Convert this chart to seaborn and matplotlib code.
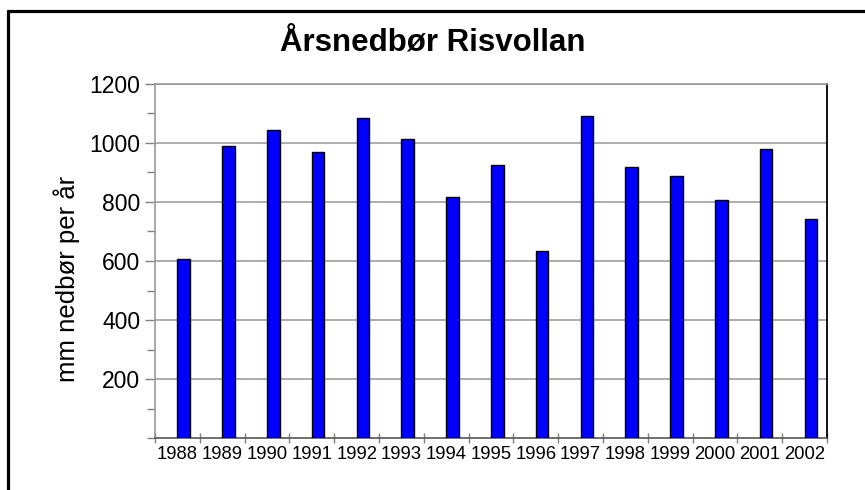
import matplotlib
matplotlib.use("Agg")
import matplotlib.pyplot as plt
import seaborn as sns
import pandas as pd
from matplotlib.ticker import FixedLocator
from matplotlib.lines import Line2D

years = ["1988", "1989", "1990", "1991", "1992", "1993", "1994", "1995",
         "1996", "1997", "1998", "1999", "2000", "2001", "2002"]
precip = [608, 989, 1043, 968, 1084, 1012, 818, 926,
          635, 1090, 918, 888, 806, 978, 743]
title = "Årsnedbør Risvollan"
ylabel = "mm nedbør per år"

df = pd.DataFrame({"year": years, "mm": precip})

sns.set_theme(style="white")
plt.rcParams["font.family"] = ["Liberation Sans", "DejaVu Sans"]
plt.rcParams["text.color"] = "black"
plt.rcParams["axes.labelcolor"] = "black"
plt.rcParams["xtick.labelcolor"] = "black"
plt.rcParams["ytick.labelcolor"] = "black"

fig = plt.figure(figsize=(8.65, 4.9), dpi=100)
ax = fig.add_axes([155/865, 1 - 438/490, (827-155)/865, (438-84)/490])

sns.barplot(data=df, x="year", y="mm", color="#0000FF", saturation=1,
            edgecolor="black", linewidth=1, width=0.28, ax=ax, zorder=3)
for p in ax.patches:
    p.set_x(p.get_x() + p.get_width() / 2)

ax.set_xlim(-0.5, len(years) - 0.5)
ax.set_ylim(0, 1200)

# y axis
ax.set_yticks([200, 400, 600, 800, 1000, 1200])
ax.yaxis.set_minor_locator(FixedLocator([0, 100, 300, 500, 700, 900, 1100]))
ax.tick_params(axis="y", which="major", length=7, width=1, color="#808080",
               labelsize=16.5, pad=3.5, left=True, direction="out",
               labelcolor="black")
ax.tick_params(axis="y", which="minor", length=6, width=1, color="#808080",
               left=True, direction="out")
ax.grid(axis="y", which="major", color="#a0a0a0", linewidth=1.2, zorder=0)

# x axis
ax.xaxis.set_minor_locator(FixedLocator([i - 0.5 for i in range(len(years) + 1)]))
ax.tick_params(axis="x", which="major", length=0, labelsize=13.3, pad=6,
               labelcolor="black")
ax.tick_params(axis="x", which="minor", length=7, width=1, color="#808080",
               bottom=True, direction="inout")

ax.set_xlabel("")
ax.set_ylabel(ylabel, fontsize=18.5, color="black")
ax.yaxis.set_label_coords(-0.111, 0.45)

for s in ["left", "top"]:
    ax.spines[s].set_color("#9a9a9a")
    ax.spines[s].set_linewidth(1.2)
ax.spines["bottom"].set_color("#555555")
ax.spines["bottom"].set_linewidth(1.2)
ax.spines["right"].set_color("black")
ax.spines["right"].set_linewidth(1.3)

fig.text(0.5, 1 - 43/490, title, ha="center", va="center",
         fontsize=22.5, fontweight="bold", color="black")

# outer frame (left and top edges visible)
fig.add_artist(Line2D([8/865, 8/865], [0, 1 - 11/490], color="black",
                      linewidth=2.3, transform=fig.transFigure))
fig.add_artist(Line2D([8/865, 1], [1 - 11/490, 1 - 11/490], color="black",
                      linewidth=2.3, transform=fig.transFigure))

fig.savefig("out.png", dpi=100, facecolor="white")
